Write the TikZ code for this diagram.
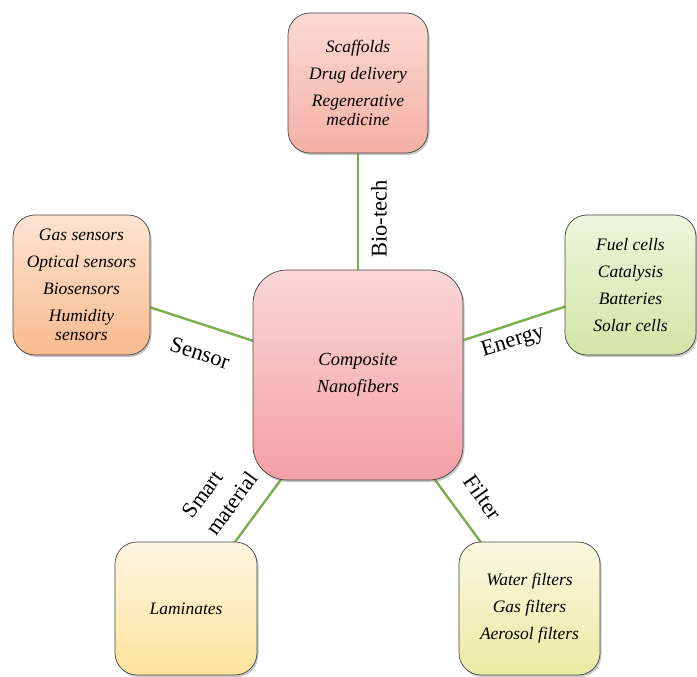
\documentclass[tikz,border=0pt]{standalone}
\usepackage{fontspec}
\setmainfont{Liberation Serif}
\usetikzlibrary{shadows,backgrounds}

\definecolor{linkgreen}{HTML}{7AAE4F}
\definecolor{coretop}{HTML}{FAD6D8}
\definecolor{corebot}{HTML}{F4A0A5}
\definecolor{biotop}{HTML}{FBDAD3}
\definecolor{biobot}{HTML}{F5B0A5}
\definecolor{sentop}{HTML}{FDE4D2}
\definecolor{senbot}{HTML}{F8BA8E}
\definecolor{engtop}{HTML}{EEF5DC}
\definecolor{engbot}{HTML}{D2E5A6}
\definecolor{smttop}{HTML}{FEF6E2}
\definecolor{smtbot}{HTML}{FCE39B}
\definecolor{filtop}{HTML}{F8F8E2}
\definecolor{filbot}{HTML}{E9ECA2}

\begin{document}
\begin{tikzpicture}[
    x=1pt, y=-1pt,
    appbox/.style={
      draw=gray!55!black, line width=0.7pt,
      rounded corners=22pt,
      align=center, inner sep=0pt,
      font=\itshape\fontsize{17.5}{27}\selectfont,
      drop shadow={shadow xshift=1.5pt, shadow yshift=-2pt, opacity=0.45}
      },
    corebox/.style={appbox, rounded corners=34pt,
      minimum width=210pt, minimum height=210pt,
      top color=coretop, bottom color=corebot,
      font=\itshape\fontsize{18.5}{27}\selectfont},
    branch/.style={draw=linkgreen, line width=2.4pt},
    field/.style={font=\fontsize{22.5}{26}\selectfont, inner sep=0pt}
    ]
    \useasboundingbox (0,0) rectangle (697,677);

    % Boxes
    \node[corebox] (core) at (358,375) {Composite\\Nanofibers};

    \node[appbox, minimum width=140pt, minimum height=140pt,
          top color=biotop, bottom color=biobot] (bio) at (358,83)
        {Scaffolds\\Drug delivery\\Regenerative\\[-8pt]medicine};
    \node[appbox, minimum width=137pt, minimum height=140pt,
          top color=sentop, bottom color=senbot] (sensor) at (81.5,285)
        {Gas sensors\\Optical sensors\\Biosensors\\Humidity\\[-8pt]sensors};
    \node[appbox, minimum width=131pt, minimum height=140pt,
          top color=engtop, bottom color=engbot] (energy) at (630.5,285)
        {Fuel cells\\Catalysis\\Batteries\\Solar cells};
    \node[appbox, minimum width=142pt, minimum height=133pt,
          top color=smttop, bottom color=smtbot] (smart) at (186,608.5)
        {Laminates};
    \node[appbox, minimum width=141pt, minimum height=133pt,
          top color=filtop, bottom color=filbot] (filter) at (529.5,608.5)
        {Water filters\\Gas filters\\Aerosol filters};

    % Links
    \begin{scope}[on background layer]
    \foreach \aa in {bio,sensor,energy,smart,filter}
        \draw[branch] (core.center) -- (\aa.center);
    \end{scope}

    % Labels
    \node[field, rotate=90] (biolbl) at (379,219) {Bio-tech};
    \node[field, rotate=-18] (senlbl) at (200,353) {Sensor};
    \node[field, rotate=17] (englbl) at (513,342) {Energy};
    \node[field, rotate=54, align=left,
          font=\fontsize{22}{29}\selectfont] (smtlbl) at (220,495) {Smart\\material};
    \node[field, rotate=-55] (fillbl) at (483,497) {Filter};
\end{tikzpicture}
\end{document}
